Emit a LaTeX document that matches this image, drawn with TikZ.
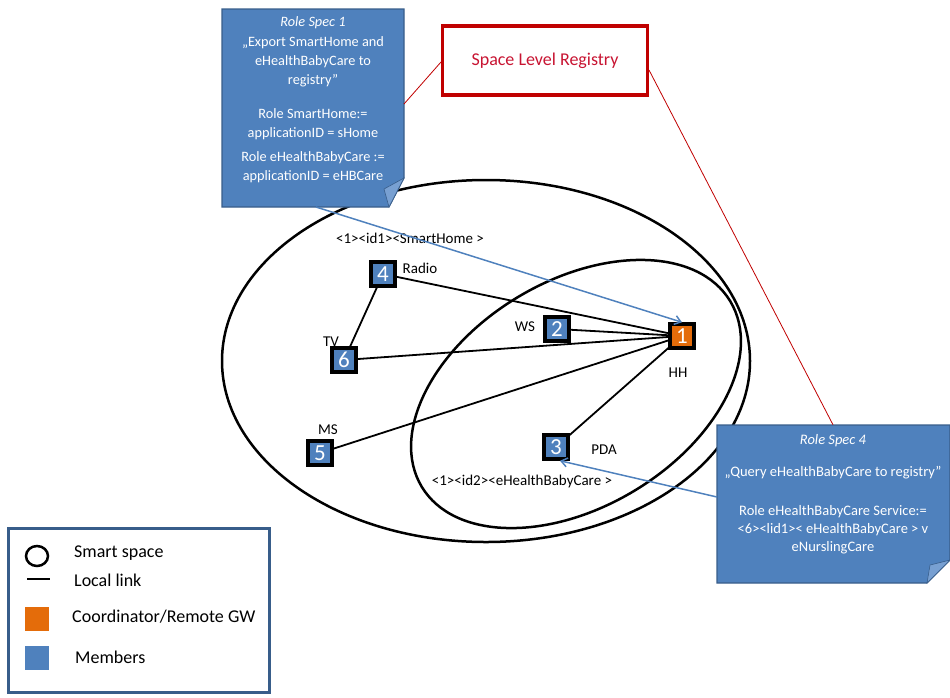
\documentclass[tikz,border=0pt]{standalone}
\usepackage{fontspec}
\setmainfont{Carlito}
\usetikzlibrary{arrows.meta,calc,backgrounds}
\definecolor{memblue}{RGB}{79,129,189}
\definecolor{specedge}{RGB}{56,93,138}
\definecolor{foldblue}{RGB}{120,160,210}
\definecolor{coordor}{RGB}{228,108,10}
\definecolor{regred}{RGB}{192,0,0}
\definecolor{regtext}{RGB}{200,20,50}
\begin{document}
\begin{tikzpicture}[x=1pt,y=-1pt,
  numbox/.style={draw=black,line width=3.5pt,fill=memblue,minimum size=24pt,inner sep=0pt,
    text=white,font=\fontsize{23}{23}\selectfont},
  coordbox/.style={numbox,fill=coordor},
  lbl/.style={font=\fontsize{15}{17}\selectfont,inner sep=0pt},
  link/.style={line width=1.8pt,black},
  space/.style={line width=2.5pt,black},
  bluearrow/.style={memblue,line width=1.5pt,-{Straight Barb[length=6pt,width=9pt]}},
  redline/.style={regred,line width=0.8pt},
  spectext/.style={text=white,align=center,font=\fontsize{14.3}{19.4}\selectfont,inner sep=0pt},
  legtext/.style={font=\fontsize{18}{20}\selectfont,anchor=west,inner sep=0pt}
]
\useasboundingbox (0,0) rectangle (950,697);

% smart spaces
\draw[space] (486,361) ellipse [x radius=264, y radius=181];
\draw[space,rotate around={31:(576,394)}] (576,394) ellipse [x radius=180, y radius=113];

% nodes
\node[numbox] (n4) at (383,274) {4};
\node[numbox] (n2) at (557,329) {2};
\node[coordbox] (n1) at (682,336) {1};
\node[numbox] (n6) at (344,360) {6};
\node[numbox] (n5) at (320,453) {5};
\node[numbox] (n3) at (556,447) {3};

% links
\begin{scope}[on background layer]
\draw[link] (n4.center) -- (n1.center);
\draw[link] (n4.center) -- (n6.center);
\draw[link] (n2.center) -- (n1.center);
\draw[link] (n6.center) -- (n1.center);
\draw[link] (n5.center) -- (n1.center);
\draw[link] (n3.center) -- (n1.center);
\end{scope}

% labels
\node[lbl] (lradio) at (420,268) {Radio};
\node[lbl] (lws) at (525,327) {WS};
\node[lbl] (ltv) at (331,342) {TV};
\node[lbl] (lhh) at (678,373) {HH};
\node[lbl] (lpda) at (604,450) {PDA};
\node[lbl] (lms) at (328,430) {MS};
\node[lbl] (lsh) at (410,238) {<1><id1><SmartHome >};
\node[lbl] (lhb) at (522,481) {<1><id2><eHealthBabyCare >};

% registry
\node[draw=regred,line width=3.5pt,fill=white,minimum width=205pt,minimum height=69pt,
  text=regtext,font=\fontsize{18}{20}\selectfont] (reg) at (545,60.5) {Space Level Registry};

% role spec 1
\fill[memblue,draw=specedge,line width=1.2pt] (222,9) -- (404,9) -- (404,178) -- (389,207) -- (222,207) -- cycle;
\fill[foldblue,draw=specedge,line width=0.6pt] (404,178) -- (384,189) -- (389,207) -- cycle;
\node[minimum width=182pt,minimum height=198pt,inner sep=0pt] (spec1) at (313,108) {};
\node[spectext,anchor=north] (spec1t) at (313,16.5) {%
  \textit{Role Spec 1}\\
  „Export SmartHome and\\
  eHealthBabyCare to\\
  registry”\\[14pt]
  Role SmartHome:=\\
  applicationID = sHome\\[4.5pt]
  Role eHealthBabyCare :=\\
  applicationID = eHBCare};

% role spec 4
\fill[memblue,draw=specedge,line width=1.2pt] (717,425) -- (950,425) -- (950,560) -- (927,583) -- (717,583) -- cycle;
\fill[foldblue,draw=specedge,line width=0.6pt] (950,560) -- (930,565) -- (927,583) -- cycle;
\node[minimum width=233pt,minimum height=158pt,inner sep=0pt] (spec4) at (833,504) {};
\node[spectext,font=\fontsize{14.5}{18}\selectfont,anchor=north] (spec4t) at (833,434) {%
  \textit{Role Spec 4}\\[14pt]
  „Query eHealthBabyCare to registry”\\[21pt]
  Role eHealthBabyCare Service:=\\
  <6><lid1>< eHealthBabyCare > v\\
  eNurslingCare};

% red connectors
\coordinate (r1) at (441,62);
\coordinate (s1r) at (404,104);
\coordinate (r2) at (649,70);
\draw[redline] (r1) -- (s1r);
\draw[redline] (r2) -- (spec4.north);

% blue arrows
\coordinate (a1) at (316,207);
\coordinate (a2) at (717,497);
\draw[bluearrow] (a1) -- (n1.north);
\draw[bluearrow] (a2) -- ([xshift=4pt]n3.south);

% legend
\node[draw=specedge,line width=2.5pt,minimum width=261pt,minimum height=164pt,inner sep=0pt] (leg) at (139,610.5) {};
\draw[line width=2.5pt] (37,556) ellipse [x radius=11, y radius=10];
\draw[line width=2.5pt] (27,579) -- (50,579);
\node[fill=coordor,minimum size=24pt,inner sep=0pt] (legc) at (37,619) {};
\node[fill=memblue,minimum size=24pt,inner sep=0pt] (legm) at (37,658) {};
\node[legtext] (t1) at (74,553) {Smart space};
\node[legtext] (t2) at (74,580) {Local link};
\node[legtext] (t3) at (72,617) {Coordinator/Remote GW};
\node[legtext] (t4) at (75,657) {Members};
\end{tikzpicture}
\end{document}
